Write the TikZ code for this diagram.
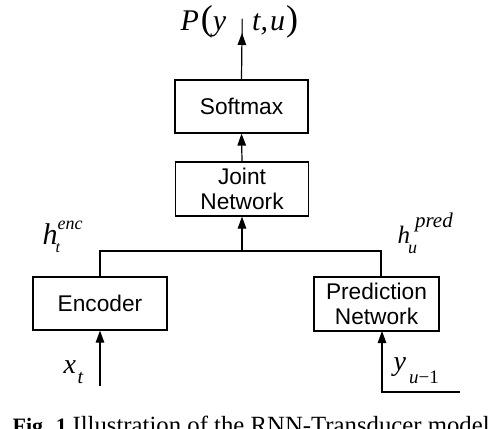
\documentclass[tikz,border=0pt]{standalone}
\usepackage{fontspec}
\setmainfont{Liberation Serif}
\setsansfont{Liberation Sans}
\usetikzlibrary{arrows.meta}
\newcommand\fsz[1]{\fontsize{#1}{#1}\selectfont}
\begin{document}
\begin{tikzpicture}[x=1pt,y=1pt,line width=1.2pt,
  box/.style={draw,rectangle,inner sep=0pt,align=center,
    font=\sffamily\fontsize{22.7}{25}\selectfont},
  arr/.style={-{Triangle[length=12pt,width=8.5pt]}},
  lbl/.style={inner sep=0pt,anchor=base west,font=\itshape}]
\useasboundingbox (0,0) rectangle (492,-428);
% boxes
\node[box,minimum width=133pt,minimum height=53pt] (soft) at (241.5,-106.5) {Softmax};
\node[box,minimum width=133pt,minimum height=54pt] (joint) at (242,-189) {Joint\\Network};
\node[box,minimum width=134pt,minimum height=53pt] (enc) at (100,-303.5) {Encoder};
\node[box,minimum width=125pt,minimum height=54pt] (pred) at (376.5,-304) {Prediction\\Network};
% connector points
\coordinate (ptip) at (242,-33);
\coordinate (jn) at (242,-251);
\coordinate (ptop) at (381,-277);
\coordinate (pbot) at (382,-331);
\coordinate (xin) at (100,-386);
\coordinate (yin) at (460,-392);
% connectors
\draw[arr] (soft.north) -- (ptip);
\draw[arr] (joint.north) -- (soft.south);
\draw[arr] (jn) -- (joint.south);
\draw (enc.north) |- (jn) -| (ptop);
\draw[arr] (xin) -- (enc.south);
\draw[arr] (yin) -| (pbot);
% labels
\node[lbl] (plabel) at (180,-31) {\fsz{30}P\kern2pt{\upshape\fsz{36}(}y\kern13.8pt{\upshape\raisebox{-4pt}{\fsz{22}|}}\kern7.8pt t,\kern2pt u\kern1pt{\upshape\fsz{36})}};
\node[lbl] (henc) at (42,-244) {\fsz{30}h\kern-2pt\rlap{\raisebox{-8pt}{\fsz{16}t}}\kern2pt\raisebox{15pt}{\fsz{18}enc}};
\node[lbl] (hpred) at (397,-243) {\fsz{25}h\kern-2pt\rlap{\raisebox{-10pt}{\fsz{18}u}}\kern7pt\raisebox{16pt}{\fsz{21}pred}};
\node[lbl] (xt) at (63,-373) {\fsz{28}x\kern1.5pt\raisebox{-10pt}{\fsz{20}t}};
\node[lbl] (yu) at (393,-370.5) {\fsz{28}y\kern3pt\raisebox{-12.5pt}{\fsz{19}u{\upshape −1}}};
% caption
\node[inner sep=0pt,anchor=base west] (cap) at (12,-433) {\fsz{22}\textbf{Fig. 1.}};
\node[inner sep=0pt,anchor=base west] (capt) at (72,-433) {\fsz{24.75}Illustration of the RNN-Transducer model};
\end{tikzpicture}
\end{document}
